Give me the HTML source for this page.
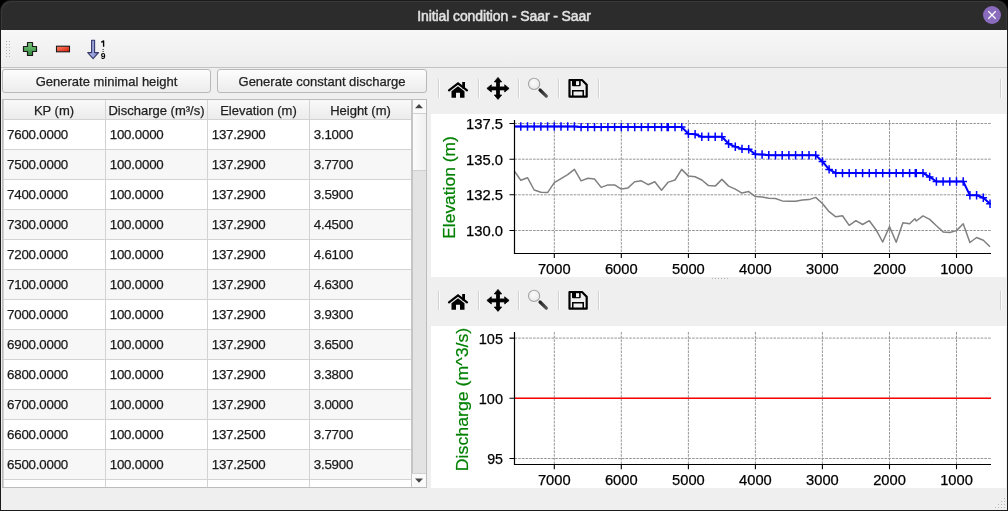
<!DOCTYPE html>
<html><head><meta charset="utf-8"><style>
*{box-sizing:border-box}
html,body{margin:0;padding:0;width:1008px;height:511px;overflow:hidden;background:#000;font-family:"Liberation Sans", sans-serif}
#win{will-change:transform;position:absolute;left:0;top:0;width:1008px;height:511px;background:#1b1b1b;border-radius:11px 11px 0 0;overflow:hidden}
#title{position:absolute;left:1px;top:1px;width:1006px;height:29px;background:#2c2c2c;border-radius:10px 10px 0 0;box-shadow:inset 1px 1px 0 #383838,inset -1px 0 0 #383838}
#title .t{position:absolute;left:0;width:1006px;top:6.5px;text-align:center;color:#e2e2e2;font-weight:400;font-size:14px;letter-spacing:-0.1px;-webkit-text-stroke:0.5px #e2e2e2}
#close{position:absolute;left:983px;top:6px;width:18px;height:18px;border-radius:50%;background:#8a6bbd}
#body{position:absolute;left:1px;top:30px;width:1006px;height:480px;background:#efefef}
#tb{position:absolute;left:1px;top:30px;width:1006px;height:37px;background:linear-gradient(#f7f7f7,#ededed)}
#tbline{position:absolute;left:1px;top:67px;width:1006px;height:1px;background:#c3c3c3}
.btn{position:absolute;top:69px;height:24px;border:1px solid #b9b9b9;border-radius:3px;background:linear-gradient(#fdfdfd,#ececec);font-size:13px;color:#222;text-align:center;line-height:24px;-webkit-text-stroke:0.25px #222}
#table{position:absolute;left:2px;top:99px;width:425px;height:389px;border:1px solid #bcbcbc;background:#fff;overflow:hidden}
.hdr{position:absolute;top:100px;height:19px;background:linear-gradient(#f9f9f9,#ececec);font-size:13px;color:#1e1e1e;text-align:center;line-height:21px;-webkit-text-stroke:0.25px #1e1e1e}
.row{position:absolute;left:3px;width:408px;height:29px;font-size:13.3px;letter-spacing:-0.2px;color:#1a1a1a}
.row span{position:absolute;top:8px;line-height:14px;white-space:pre;-webkit-text-stroke:0.25px #1a1a1a}
.hl{position:absolute;left:3px;width:408px;height:1px;background:#d3d3d3}
.vl{position:absolute;top:100px;width:1px;height:387px;background:#d3d3d3}
.sep{position:absolute;width:1px;height:19px;background:#d2d2d2;box-shadow:1px 0 0 #fcfcfc}
.ic{position:absolute}
svg text{font-family:"Liberation Sans", sans-serif}
</style></head><body>
<div id="win">
<div id="title"><div class="t">Initial condition - Saar - Saar</div>
</div>
<div id="close"><svg width="18" height="18" viewBox="0 0 18 18"><path d="M5.3 5.3 L12.7 12.7 M12.7 5.3 L5.3 12.7" stroke="#fff" stroke-width="1.3"/></svg></div>
<div id="body"></div>
<div id="tb"></div>
<div id="tbline"></div>
<!-- toolbar grip -->
<svg style="position:absolute;left:5px;top:40px" width="6" height="18" viewBox="0 0 6 18">
<g fill="#b5b5b5"><rect x="1" y="1" width="1" height="1"/><rect x="1" y="4" width="1" height="1"/><rect x="1" y="7" width="1" height="1"/><rect x="1" y="10" width="1" height="1"/><rect x="1" y="13" width="1" height="1"/><rect x="1" y="16" width="1" height="1"/><rect x="4" y="1" width="1" height="1"/><rect x="4" y="4" width="1" height="1"/><rect x="4" y="7" width="1" height="1"/><rect x="4" y="10" width="1" height="1"/><rect x="4" y="13" width="1" height="1"/><rect x="4" y="16" width="1" height="1"/></g></svg>
<!-- plus -->
<svg style="position:absolute;left:22px;top:41px" width="16" height="16" viewBox="0 0 16 16">
<defs><linearGradient id="gp" x1="0" y1="0" x2="0" y2="1"><stop offset="0" stop-color="#7cc67f"/><stop offset="1" stop-color="#2f8a3c"/></linearGradient></defs>
<path d="M5.5 1.5 H10.5 V5.5 H14.5 V10.5 H10.5 V14.5 H5.5 V10.5 H1.5 V5.5 H5.5 Z" fill="url(#gp)" stroke="#1a1a1a" stroke-width="1.2" stroke-linejoin="round"/></svg>
<!-- minus -->
<svg style="position:absolute;left:55px;top:45px" width="16" height="8" viewBox="0 0 16 8">
<defs><linearGradient id="gm" x1="0" y1="0" x2="1" y2="1"><stop offset="0" stop-color="#ff8a6a"/><stop offset="1" stop-color="#d81808"/></linearGradient></defs>
<rect x="1.5" y="1.2" width="13" height="5.6" fill="url(#gm)" stroke="#1a1a1a" stroke-width="1.1"/></svg>
<!-- sort -->
<svg style="position:absolute;left:85px;top:39px" width="24" height="22" viewBox="0 0 24 22">
<defs><linearGradient id="gs" x1="0" y1="0" x2="1" y2="0"><stop offset="0" stop-color="#b4bcef"/><stop offset="1" stop-color="#8088c8"/></linearGradient></defs>
<path d="M6.6 1.2 H9.6 V13.6 H13.5 L8.1 19.6 L2.7 13.6 H6.6 Z" fill="url(#gs)" stroke="#34386a" stroke-width="1.1" stroke-linejoin="round"/>
<path d="M16.3 3.3 L18.6 1.9 V7.8" fill="none" stroke="#000" stroke-width="1.35" stroke-linejoin="round"/>
<rect x="17.6" y="10" width="1" height="1" fill="#111"/><rect x="17.6" y="12" width="1" height="1" fill="#111"/>
<text x="18.1" y="20" font-size="8.6" font-weight="700" text-anchor="middle" fill="#000">9</text></svg>

<div class="btn" style="left:2px;width:209px">Generate minimal height</div>
<div class="btn" style="left:217px;width:210px">Generate constant discharge</div>

<div id="table"></div>
<div class="row" style="top:120px;background:#ffffff"><span style="left:4px">7600.0000</span><span style="left:106.7px">100.0000</span><span style="left:208.7px">137.2900</span><span style="left:310.7px">3.1000</span></div>
<div class="row" style="top:150px;background:#f7f7f7"><span style="left:4px">7500.0000</span><span style="left:106.7px">100.0000</span><span style="left:208.7px">137.2900</span><span style="left:310.7px">3.7700</span></div>
<div class="row" style="top:180px;background:#ffffff"><span style="left:4px">7400.0000</span><span style="left:106.7px">100.0000</span><span style="left:208.7px">137.2900</span><span style="left:310.7px">3.5900</span></div>
<div class="row" style="top:210px;background:#f7f7f7"><span style="left:4px">7300.0000</span><span style="left:106.7px">100.0000</span><span style="left:208.7px">137.2900</span><span style="left:310.7px">4.4500</span></div>
<div class="row" style="top:240px;background:#ffffff"><span style="left:4px">7200.0000</span><span style="left:106.7px">100.0000</span><span style="left:208.7px">137.2900</span><span style="left:310.7px">4.6100</span></div>
<div class="row" style="top:270px;background:#f7f7f7"><span style="left:4px">7100.0000</span><span style="left:106.7px">100.0000</span><span style="left:208.7px">137.2900</span><span style="left:310.7px">4.6300</span></div>
<div class="row" style="top:300px;background:#ffffff"><span style="left:4px">7000.0000</span><span style="left:106.7px">100.0000</span><span style="left:208.7px">137.2900</span><span style="left:310.7px">3.9300</span></div>
<div class="row" style="top:330px;background:#f7f7f7"><span style="left:4px">6900.0000</span><span style="left:106.7px">100.0000</span><span style="left:208.7px">137.2900</span><span style="left:310.7px">3.6500</span></div>
<div class="row" style="top:360px;background:#ffffff"><span style="left:4px">6800.0000</span><span style="left:106.7px">100.0000</span><span style="left:208.7px">137.2900</span><span style="left:310.7px">3.3800</span></div>
<div class="row" style="top:390px;background:#f7f7f7"><span style="left:4px">6700.0000</span><span style="left:106.7px">100.0000</span><span style="left:208.7px">137.2900</span><span style="left:310.7px">3.0000</span></div>
<div class="row" style="top:420px;background:#ffffff"><span style="left:4px">6600.0000</span><span style="left:106.7px">100.0000</span><span style="left:208.7px">137.2500</span><span style="left:310.7px">3.7700</span></div>
<div class="row" style="top:450px;background:#f7f7f7"><span style="left:4px">6500.0000</span><span style="left:106.7px">100.0000</span><span style="left:208.7px">137.2500</span><span style="left:310.7px">3.5900</span></div>
<div class="row" style="top:480px;height:7px;background:#ffffff"></div>
<div class="hdr" style="left:3px;width:102px">KP (m)</div>
<div class="hdr" style="left:106px;width:101px">Discharge (m³/s)</div>
<div class="hdr" style="left:208px;width:101px">Elevation (m)</div>
<div class="hdr" style="left:310px;width:101px">Height (m)</div>
<div class="hl" style="top:119px"></div><div class="hl" style="top:149px"></div><div class="hl" style="top:179px"></div><div class="hl" style="top:209px"></div><div class="hl" style="top:239px"></div><div class="hl" style="top:269px"></div><div class="hl" style="top:299px"></div><div class="hl" style="top:329px"></div><div class="hl" style="top:359px"></div><div class="hl" style="top:389px"></div><div class="hl" style="top:419px"></div><div class="hl" style="top:449px"></div><div class="hl" style="top:479px"></div>
<div class="vl" style="left:105px"></div><div class="vl" style="left:207px"></div><div class="vl" style="left:309px"></div>
<div class="vl" style="left:411px;background:#c6c6c6"></div>
<div style="position:absolute;left:2px;top:99px;width:1px;height:389px;background:#bcbcbc"></div>
<div style="position:absolute;left:3px;top:100px;width:1px;height:387px;background:#d3d3d3"></div>
<!-- scrollbar -->
<div style="position:absolute;left:412px;top:100px;width:14px;height:387px;background:#e3e3e3"></div>
<div style="position:absolute;left:412px;top:100px;width:14px;height:14px;background:#fafafa;border-bottom:1px solid #d0d0d0"></div>
<div style="position:absolute;left:412px;top:100px;width:1px;height:387px;background:#c4c4c4"></div>
<div style="position:absolute;left:413px;top:114px;width:13px;height:57px;background:linear-gradient(90deg,#fbfbfb,#f0f0f0);border-bottom:1px solid #cfcfcf"></div>
<div style="position:absolute;left:412px;top:473px;width:14px;height:14px;background:#fafafa;border-top:1px solid #d0d0d0"></div>
<svg style="position:absolute;left:412px;top:100px" width="14" height="14"><path d="M3 8.2 L7 4 L11 8.2 Z" fill="#444"/></svg>
<svg style="position:absolute;left:412px;top:473px" width="14" height="14"><path d="M3 5.5 L7 9.7 L11 5.5 Z" fill="#444"/></svg>

<!-- mpl toolbars -->
<div class="sep" style="left:438px;top:79px"></div><div class="sep" style="left:478px;top:79px"></div><div class="sep" style="left:518px;top:79px"></div><div class="sep" style="left:558px;top:79px"></div><div class="sep" style="left:598px;top:79px"></div><div class="sep" style="left:1000px;top:79px"></div><svg class="ic" style="left:446px;top:80px" width="24" height="20" viewBox="0 0 24 20">
<path d="M3 10.3 L12 3.3 L21 10.3" fill="none" stroke="#000" stroke-width="2.2" stroke-linecap="round" stroke-linejoin="miter"/>
<rect x="16.2" y="2" width="2.8" height="6.5" fill="#000"/>
<path d="M5.5 11.2 L12 6.3 L18.5 11.2 V17.8 H14 V12.8 H10 V17.8 H5.5 Z" fill="#000"/></svg><svg class="ic" style="left:486px;top:76px" width="24" height="25" viewBox="0 0 24 25">
<path d="M12 1.4 L15.7 5.9 H13.5 V10.9 H18.7 V8.8 L23.1 12.4 L18.7 16 V13.9 H13.5 V19 H15.7 L12 23.4 L8.3 19 H10.5 V13.9 H5.3 V16 L0.9 12.4 L5.3 8.8 V10.9 H10.5 V5.9 H8.3 Z" fill="#000" stroke="#000" stroke-width="0.8" stroke-linejoin="round"/></svg><svg class="ic" style="left:526px;top:76px" width="24" height="24" viewBox="0 0 24 24">
<defs><radialGradient id="zg0" cx="0.45" cy="0.4" r="0.65"><stop offset="0" stop-color="#fbfbfb"/><stop offset="0.75" stop-color="#ececec"/><stop offset="1" stop-color="#d0d0d0"/></radialGradient>
<linearGradient id="zh0" x1="0" y1="0" x2="1" y2="1"><stop offset="0" stop-color="#222"/><stop offset="1" stop-color="#555"/></linearGradient></defs>
<line x1="14" y1="14" x2="20.3" y2="20.1" stroke="url(#zh0)" stroke-width="3.2" stroke-linecap="round"/>
<circle cx="8.1" cy="7.9" r="5.6" fill="url(#zg0)" stroke="#a4a4a4" stroke-width="1.1"/></svg><svg class="ic" style="left:567px;top:78px" width="22" height="21" viewBox="0 0 22 21">
<path d="M2.5 2 H15 L19.7 6.7 V18.7 H2.5 Z" fill="none" stroke="#000" stroke-width="2.2" stroke-linejoin="round"/>
<path d="M5 2 H13.7 V7.3 Q13.7 8.3 12.7 8.3 H6 Q5 8.3 5 7.3 Z" fill="#000"/><rect x="9" y="3.2" width="3.1" height="3.9" fill="#f4f4f4"/>
<path d="M5.75 18.7 V12.65 H16.25 V18.7" fill="none" stroke="#000" stroke-width="1.5"/></svg>
<div class="sep" style="left:438px;top:291px"></div><div class="sep" style="left:478px;top:291px"></div><div class="sep" style="left:518px;top:291px"></div><div class="sep" style="left:558px;top:291px"></div><div class="sep" style="left:598px;top:291px"></div><div class="sep" style="left:1000px;top:291px"></div><svg class="ic" style="left:446px;top:292px" width="24" height="20" viewBox="0 0 24 20">
<path d="M3 10.3 L12 3.3 L21 10.3" fill="none" stroke="#000" stroke-width="2.2" stroke-linecap="round" stroke-linejoin="miter"/>
<rect x="16.2" y="2" width="2.8" height="6.5" fill="#000"/>
<path d="M5.5 11.2 L12 6.3 L18.5 11.2 V17.8 H14 V12.8 H10 V17.8 H5.5 Z" fill="#000"/></svg><svg class="ic" style="left:486px;top:288px" width="24" height="25" viewBox="0 0 24 25">
<path d="M12 1.4 L15.7 5.9 H13.5 V10.9 H18.7 V8.8 L23.1 12.4 L18.7 16 V13.9 H13.5 V19 H15.7 L12 23.4 L8.3 19 H10.5 V13.9 H5.3 V16 L0.9 12.4 L5.3 8.8 V10.9 H10.5 V5.9 H8.3 Z" fill="#000" stroke="#000" stroke-width="0.8" stroke-linejoin="round"/></svg><svg class="ic" style="left:526px;top:288px" width="24" height="24" viewBox="0 0 24 24">
<defs><radialGradient id="zg212" cx="0.45" cy="0.4" r="0.65"><stop offset="0" stop-color="#fbfbfb"/><stop offset="0.75" stop-color="#ececec"/><stop offset="1" stop-color="#d0d0d0"/></radialGradient>
<linearGradient id="zh212" x1="0" y1="0" x2="1" y2="1"><stop offset="0" stop-color="#222"/><stop offset="1" stop-color="#555"/></linearGradient></defs>
<line x1="14" y1="14" x2="20.3" y2="20.1" stroke="url(#zh212)" stroke-width="3.2" stroke-linecap="round"/>
<circle cx="8.1" cy="7.9" r="5.6" fill="url(#zg212)" stroke="#a4a4a4" stroke-width="1.1"/></svg><svg class="ic" style="left:567px;top:290px" width="22" height="21" viewBox="0 0 22 21">
<path d="M2.5 2 H15 L19.7 6.7 V18.7 H2.5 Z" fill="none" stroke="#000" stroke-width="2.2" stroke-linejoin="round"/>
<path d="M5 2 H13.7 V7.3 Q13.7 8.3 12.7 8.3 H6 Q5 8.3 5 7.3 Z" fill="#000"/><rect x="9" y="3.2" width="3.1" height="3.9" fill="#f4f4f4"/>
<path d="M5.75 18.7 V12.65 H16.25 V18.7" fill="none" stroke="#000" stroke-width="1.5"/></svg>

<!-- canvases -->
<div style="position:absolute;left:431px;top:114px;width:575px;height:163px;background:#fff"></div>
<div style="position:absolute;left:431px;top:326px;width:575px;height:162px;background:#fff"></div>
<svg style="position:absolute;left:0;top:0" width="1008" height="511" viewBox="0 0 1008 511">
<g stroke="#8a8a8a" stroke-width="0.9" stroke-dasharray="2.6 1.1" fill="none"><line x1="554.3" y1="120" x2="554.3" y2="253" /><line x1="621.3" y1="120" x2="621.3" y2="253" /><line x1="688.4" y1="120" x2="688.4" y2="253" /><line x1="755.4" y1="120" x2="755.4" y2="253" /><line x1="822.4" y1="120" x2="822.4" y2="253" /><line x1="889.5" y1="120" x2="889.5" y2="253" /><line x1="956.5" y1="120" x2="956.5" y2="253" /><line x1="514.5" y1="123.5" x2="991" y2="123.5" /><line x1="514.5" y1="159.2" x2="991" y2="159.2" /><line x1="514.5" y1="194.8" x2="991" y2="194.8" /><line x1="514.5" y1="230.5" x2="991" y2="230.5" /><line x1="554.3" y1="332" x2="554.3" y2="464" /><line x1="621.3" y1="332" x2="621.3" y2="464" /><line x1="688.4" y1="332" x2="688.4" y2="464" /><line x1="755.4" y1="332" x2="755.4" y2="464" /><line x1="822.4" y1="332" x2="822.4" y2="464" /><line x1="889.5" y1="332" x2="889.5" y2="464" /><line x1="956.5" y1="332" x2="956.5" y2="464" /><line x1="514.5" y1="338.1" x2="991" y2="338.1" /><line x1="514.5" y1="398.3" x2="991" y2="398.3" /><line x1="514.5" y1="458.5" x2="991" y2="458.5" /></g>
<defs><clipPath id="c1"><rect x="514.5" y="120" width="476.5" height="133.5"/></clipPath></defs>
<g clip-path="url(#c1)">
<polyline points="514.1,170.7 520.8,180.3 527.5,177.7 534.2,190.0 540.9,192.3 547.6,192.6 554.3,182.6 561.0,178.6 567.7,174.7 574.4,169.3 581.1,180.9 587.8,178.3 594.5,179.0 601.2,187.4 607.9,184.9 614.6,184.9 621.3,189.1 628.0,187.9 634.7,181.7 641.4,180.8 648.1,184.7 654.8,181.7 661.5,190.2 668.3,182.1 675.0,180.0 681.7,169.4 688.4,176.1 695.1,176.8 701.8,180.0 708.5,185.6 715.2,186.1 721.9,179.4 728.6,186.1 735.3,189.1 742.0,193.1 748.7,191.6 755.4,196.6 762.1,197.0 768.8,198.3 775.5,198.5 782.2,200.9 788.9,201.3 795.6,201.3 802.3,200.0 809.0,199.6 815.7,197.4 822.4,203.5 829.1,211.7 835.8,216.8 842.5,215.7 849.2,225.4 855.9,220.7 862.6,224.5 869.3,220.7 876.0,229.7 882.7,242.0 889.5,226.5 896.2,242.2 902.9,222.8 909.6,223.7 914.9,218.7 916.3,221.0 923.0,215.9 929.7,219.4 936.4,225.8 943.1,231.9 949.8,232.5 956.5,230.6 963.2,223.8 969.9,242.5 976.6,237.5 983.3,240.3 990.0,246.8" fill="none" stroke="#808080" stroke-width="1.5" stroke-linejoin="round"/>
<polyline points="514.1,126.5 520.8,126.5 527.5,126.5 534.2,126.5 540.9,126.5 547.6,126.5 554.3,126.5 561.0,126.5 567.7,126.5 574.4,126.5 581.1,127.1 587.8,127.1 594.5,127.1 601.2,127.1 607.9,127.1 614.6,127.1 621.3,127.1 628.0,127.1 634.7,127.1 641.4,127.1 648.1,127.1 654.8,127.1 661.5,127.1 668.3,127.1 675.0,127.1 681.7,127.1 688.4,133.8 695.1,134.3 701.8,136.8 708.5,136.8 715.2,136.8 721.9,136.8 728.6,143.8 735.3,146.7 742.0,148.9 748.7,149.2 755.4,154.2 762.1,154.5 768.8,155.3 775.5,155.3 782.2,155.3 788.9,155.3 795.6,155.3 802.3,155.3 809.0,155.3 815.7,155.3 822.4,161.5 829.1,169.4 835.8,173.1 842.5,173.1 849.2,173.1 855.9,173.1 862.6,173.1 869.3,173.1 876.0,173.1 882.7,173.1 889.5,173.1 896.2,173.1 902.9,173.1 909.6,173.1 916.3,173.1 923.0,173.1 929.7,176.9 936.4,181.5 943.1,181.5 949.8,181.5 956.5,181.5 963.2,181.5 969.9,195.2 976.6,195.2 983.3,197.7 990.0,203.8" fill="none" stroke="#0000ff" stroke-width="2" stroke-linejoin="round"/>
<path d="M667.2 122.9v8.4M915.3 168.9v8.4M510.3 126.5h7.6M514.1 122.3v8.4M517.0 126.5h7.6M520.8 122.3v8.4M523.7 126.5h7.6M527.5 122.3v8.4M530.4 126.5h7.6M534.2 122.3v8.4M537.1 126.5h7.6M540.9 122.3v8.4M543.8 126.5h7.6M547.6 122.3v8.4M550.5 126.5h7.6M554.3 122.3v8.4M557.2 126.5h7.6M561.0 122.3v8.4M563.9 126.5h7.6M567.7 122.3v8.4M570.6 126.5h7.6M574.4 122.3v8.4M577.3 127.1h7.6M581.1 122.9v8.4M584.0 127.1h7.6M587.8 122.9v8.4M590.7 127.1h7.6M594.5 122.9v8.4M597.4 127.1h7.6M601.2 122.9v8.4M604.1 127.1h7.6M607.9 122.9v8.4M610.8 127.1h7.6M614.6 122.9v8.4M617.5 127.1h7.6M621.3 122.9v8.4M624.2 127.1h7.6M628.0 122.9v8.4M630.9 127.1h7.6M634.7 122.9v8.4M637.6 127.1h7.6M641.4 122.9v8.4M644.3 127.1h7.6M648.1 122.9v8.4M651.0 127.1h7.6M654.8 122.9v8.4M657.7 127.1h7.6M661.5 122.9v8.4M664.5 127.1h7.6M668.3 122.9v8.4M671.2 127.1h7.6M675.0 122.9v8.4M677.9 127.1h7.6M681.7 122.9v8.4M684.6 133.8h7.6M688.4 129.6v8.4M691.3 134.3h7.6M695.1 130.1v8.4M698.0 136.8h7.6M701.8 132.6v8.4M704.7 136.8h7.6M708.5 132.6v8.4M711.4 136.8h7.6M715.2 132.6v8.4M718.1 136.8h7.6M721.9 132.6v8.4M724.8 143.8h7.6M728.6 139.6v8.4M731.5 146.7h7.6M735.3 142.5v8.4M738.2 148.9h7.6M742.0 144.7v8.4M744.9 149.2h7.6M748.7 145.0v8.4M751.6 154.2h7.6M755.4 150.0v8.4M758.3 154.5h7.6M762.1 150.3v8.4M765.0 155.3h7.6M768.8 151.1v8.4M771.7 155.3h7.6M775.5 151.1v8.4M778.4 155.3h7.6M782.2 151.1v8.4M785.1 155.3h7.6M788.9 151.1v8.4M791.8 155.3h7.6M795.6 151.1v8.4M798.5 155.3h7.6M802.3 151.1v8.4M805.2 155.3h7.6M809.0 151.1v8.4M811.9 155.3h7.6M815.7 151.1v8.4M818.6 161.5h7.6M822.4 157.3v8.4M825.3 169.4h7.6M829.1 165.2v8.4M832.0 173.1h7.6M835.8 168.9v8.4M838.7 173.1h7.6M842.5 168.9v8.4M845.4 173.1h7.6M849.2 168.9v8.4M852.1 173.1h7.6M855.9 168.9v8.4M858.8 173.1h7.6M862.6 168.9v8.4M865.5 173.1h7.6M869.3 168.9v8.4M872.2 173.1h7.6M876.0 168.9v8.4M878.9 173.1h7.6M882.7 168.9v8.4M885.7 173.1h7.6M889.5 168.9v8.4M892.4 173.1h7.6M896.2 168.9v8.4M899.1 173.1h7.6M902.9 168.9v8.4M905.8 173.1h7.6M909.6 168.9v8.4M912.5 173.1h7.6M916.3 168.9v8.4M919.2 173.1h7.6M923.0 168.9v8.4M925.9 176.9h7.6M929.7 172.7v8.4M932.6 181.5h7.6M936.4 177.3v8.4M939.3 181.5h7.6M943.1 177.3v8.4M946.0 181.5h7.6M949.8 177.3v8.4M952.7 181.5h7.6M956.5 177.3v8.4M959.4 181.5h7.6M963.2 177.3v8.4M966.1 195.2h7.6M969.9 191.0v8.4M972.8 195.2h7.6M976.6 191.0v8.4M979.5 197.7h7.6M983.3 193.5v8.4M986.2 203.8h7.6M990.0 199.6v8.4" stroke="#0000ff" stroke-width="1.5" fill="none"/>
</g>
<line x1="514.5" y1="398.3" x2="991" y2="398.3" stroke="#ff0000" stroke-width="1.5"/>
<path d="M514.5 120 V253.5 H991 M514.5 332 V464.5 H991" fill="none" stroke="#000" stroke-width="1.2"/>
<path d="M554.3 253v5M621.3 253v5M688.4 253v5M755.4 253v5M822.4 253v5M889.5 253v5M956.5 253v5M509.5 123.5h5M509.5 159.2h5M509.5 194.8h5M509.5 230.5h5M554.3 464.2v5M621.3 464.2v5M688.4 464.2v5M755.4 464.2v5M822.4 464.2v5M889.5 464.2v5M956.5 464.2v5M509.5 338.1h5M509.5 398.3h5M509.5 458.5h5" stroke="#000" stroke-width="1.1"/>
<g font-size="14" fill="#000" stroke="#000" stroke-width="0.25"><text x="554.3" y="274" text-anchor="middle" textLength="32.7" lengthAdjust="spacingAndGlyphs">7000</text><text x="621.3" y="274" text-anchor="middle" textLength="32.7" lengthAdjust="spacingAndGlyphs">6000</text><text x="688.4" y="274" text-anchor="middle" textLength="32.7" lengthAdjust="spacingAndGlyphs">5000</text><text x="755.4" y="274" text-anchor="middle" textLength="32.7" lengthAdjust="spacingAndGlyphs">4000</text><text x="822.4" y="274" text-anchor="middle" textLength="32.7" lengthAdjust="spacingAndGlyphs">3000</text><text x="889.5" y="274" text-anchor="middle" textLength="32.7" lengthAdjust="spacingAndGlyphs">2000</text><text x="956.5" y="274" text-anchor="middle" textLength="32.7" lengthAdjust="spacingAndGlyphs">1000</text><text x="503" y="128.8" text-anchor="end" textLength="37.0" lengthAdjust="spacingAndGlyphs">137.5</text><text x="503" y="164.5" text-anchor="end" textLength="37.0" lengthAdjust="spacingAndGlyphs">135.0</text><text x="503" y="200.1" text-anchor="end" textLength="37.0" lengthAdjust="spacingAndGlyphs">132.5</text><text x="503" y="235.8" text-anchor="end" textLength="37.0" lengthAdjust="spacingAndGlyphs">130.0</text><text x="554.3" y="485" text-anchor="middle" textLength="32.7" lengthAdjust="spacingAndGlyphs">7000</text><text x="621.3" y="485" text-anchor="middle" textLength="32.7" lengthAdjust="spacingAndGlyphs">6000</text><text x="688.4" y="485" text-anchor="middle" textLength="32.7" lengthAdjust="spacingAndGlyphs">5000</text><text x="755.4" y="485" text-anchor="middle" textLength="32.7" lengthAdjust="spacingAndGlyphs">4000</text><text x="822.4" y="485" text-anchor="middle" textLength="32.7" lengthAdjust="spacingAndGlyphs">3000</text><text x="889.5" y="485" text-anchor="middle" textLength="32.7" lengthAdjust="spacingAndGlyphs">2000</text><text x="956.5" y="485" text-anchor="middle" textLength="32.7" lengthAdjust="spacingAndGlyphs">1000</text><text x="503" y="343.6" text-anchor="end" textLength="24.2" lengthAdjust="spacingAndGlyphs">105</text><text x="503" y="403.8" text-anchor="end" textLength="24.2" lengthAdjust="spacingAndGlyphs">100</text><text x="503" y="464.0" text-anchor="end" textLength="15.8" lengthAdjust="spacingAndGlyphs">95</text></g>
<text transform="translate(454.5,187.5) rotate(-90)" text-anchor="middle" font-size="16.5" fill="#008000" stroke="#008000" stroke-width="0.2" textLength="102.5" lengthAdjust="spacingAndGlyphs">Elevation (m)</text>
<text transform="translate(468,399.5) rotate(-90)" text-anchor="middle" font-size="16.5" fill="#008000" stroke="#008000" stroke-width="0.2" textLength="143.5" lengthAdjust="spacingAndGlyphs">Discharge (m^3/s)</text>
<g fill="#b0b0b0"><rect x="712" y="278" width="1" height="1"/><rect x="715" y="278" width="1" height="1"/><rect x="718" y="278" width="1" height="1"/><rect x="721" y="278" width="1" height="1"/><rect x="724" y="278" width="1" height="1"/><rect x="727" y="278" width="1" height="1"/></g>
<g fill="#b8b8b8"><rect x="1004" y="498" width="1" height="1"/><rect x="1001" y="501" width="1" height="1"/><rect x="1004" y="501" width="1" height="1"/><rect x="998" y="504" width="1" height="1"/><rect x="1001" y="504" width="1" height="1"/><rect x="1004" y="504" width="1" height="1"/><rect x="995" y="507" width="1" height="1"/><rect x="998" y="507" width="1" height="1"/><rect x="1001" y="507" width="1" height="1"/><rect x="1004" y="507" width="1" height="1"/></g>
</svg>
</div>
</body></html>
